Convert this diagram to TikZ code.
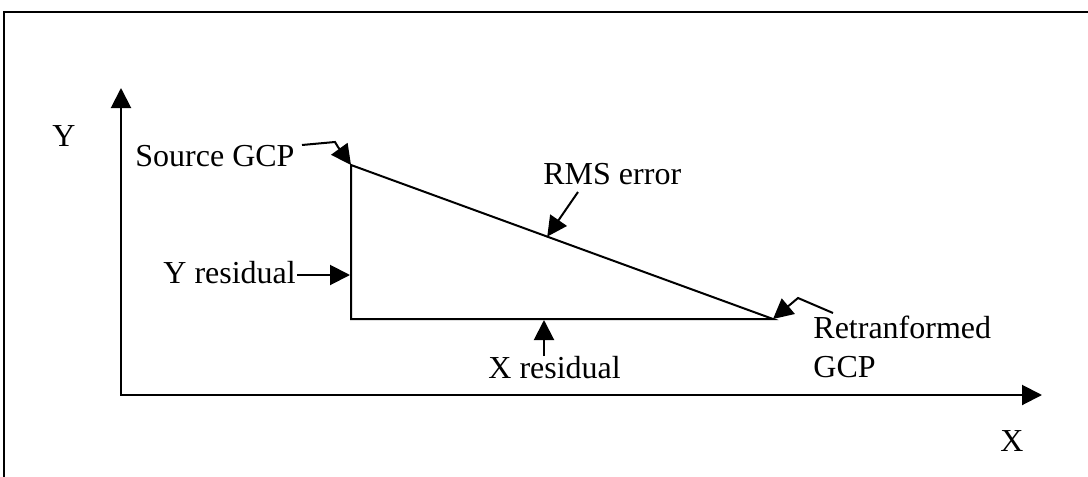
\documentclass[tikz,border=0pt]{standalone}
\usepackage{fontspec}
\setmainfont{Liberation Serif}
\usetikzlibrary{arrows.meta,calc}
\begin{document}
\begin{tikzpicture}[x=0.5pt,y=-0.5pt,
  ln/.style={line width=1pt},
  tip/.style={-{Triangle[length=10pt,width=10pt]}},
  arr/.style={ln,tip},
  lbl/.style={inner sep=0pt,font=\fontsize{16}{19.5}\selectfont}]
\useasboundingbox (0,0) rectangle (1088,477);
\clip (0,0) rectangle (1088,477);
% frame
\draw[ln] (4,520) -- (4,12) -- (1120,12);
% axes
\coordinate (O) at (121,395);
\coordinate (ytip) at (121,88);
\coordinate (xtip) at (1042,395);
\draw[ln,{Triangle[length=10pt,width=10pt]}-{Triangle[length=10pt,width=10pt]}] (ytip) -- (O) -- (xtip);
\node[lbl,anchor=base] (ylab) at (64,146) {Y};
\node[lbl,anchor=base] (xlab) at (1012,451) {X};
% triangle
\coordinate (A) at (351,165);
\coordinate (B) at (351,319);
\coordinate (C) at (773,319);
\draw[ln] (A) -- (B) -- (C) -- cycle;
% labels
\node[lbl,anchor=base west] (src) at (135,166) {Source GCP};
\node[lbl,anchor=base west] (rms) at (543,184) {RMS error};
\node[lbl,anchor=base west] (yres) at (163,283) {Y residual};
\node[lbl,anchor=base west] (xres) at (488,378) {X residual};
\node[lbl,anchor=north west,align=left] (ret) at (813,316) {Retranformed\\GCP};
% leader coordinates
\coordinate (s1) at (302,145);
\coordinate (s2) at (335,142);
\coordinate (s3) at (338,147);
\coordinate (r1) at (578,192);
\coordinate (r2) at ($(A)!0.465!(C)$);
\coordinate (y1) at (297,275);
\coordinate (y2) at (350,275);
\coordinate (x1) at (544,356);
\coordinate (x2) at (544,320);
\coordinate (t1) at (833,313);
\coordinate (t2) at (798,298);
% leaders
\draw[arr] (s1) -- (s2) -- (s3) -- (A);
\draw[arr] (r1) -- (r2);
\draw[arr] (y1) -- (y2);
\draw[arr] (x1) -- (x2);
\draw[arr] (t1) -- (t2) -- (C);
\end{tikzpicture}
\end{document}
